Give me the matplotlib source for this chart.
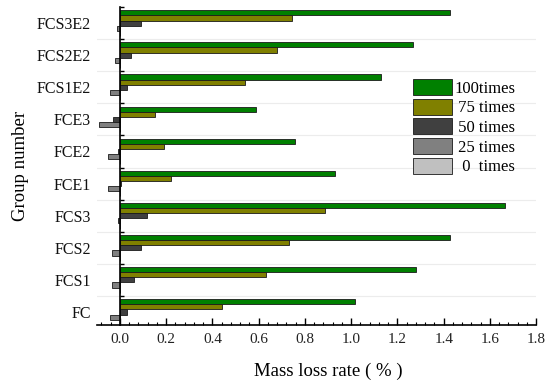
import numpy as np
import matplotlib.pyplot as plt
from matplotlib.ticker import MultipleLocator, FixedLocator

plt.rcParams['font.family'] = ['Liberation Serif', 'DejaVu Serif']

# Data
groups = ['FC', 'FCS1', 'FCS2', 'FCS3', 'FCE1', 'FCE2', 'FCE3', 'FCS1E2', 'FCS2E2', 'FCS3E2']
series = ['100times', ' 75 times', ' 50 times', ' 25 times', '  0  times']
t100 = [1.015, 1.278, 1.427, 1.665, 0.928, 0.759, 0.588, 1.128, 1.266, 1.427]
t75 = [0.44, 0.63, 0.73, 0.888, 0.22, 0.19, 0.152, 0.54, 0.68, 0.746]
t50 = [0.03, 0.06, 0.09, 0.118, 0.004, -0.01, -0.03, 0.03, 0.048, 0.09]
t25 = [-0.043, -0.033, -0.033, -0.01, -0.05, -0.05, -0.09, -0.043, -0.023, -0.012]
t0 = [0, 0, 0, 0, 0, 0, 0, 0, 0, 0]

colors = ['#008000', '#808000', '#404040', '#808080', '#c0c0c0']

fig = plt.figure(figsize=(5.5, 3.9), dpi=100)
ax = fig.add_axes([0.176, 0.167, 0.799, 0.815])

y = np.arange(len(groups))
h = 0.16
offsets = [2 * h, h, 0, -h, -2 * h]
for vals, off, col, lab in zip([t100, t75, t50, t25, t0], offsets, colors, series):
    ax.barh(y + off, vals, height=h, color=col, edgecolor='#1a1a1a', linewidth=0.6, label=lab, zorder=3)

ax.set_xlim(-0.1, 1.8)
ax.set_ylim(-0.4, 9.5)

# faint horizontal separators between groups
for b in np.arange(0.5, 9.0, 1.0):
    ax.axhline(b, color='#ececec', linewidth=0.8, zorder=1)

for s in ['top', 'right']:
    ax.spines[s].set_visible(False)
ax.spines['left'].set_position(('data', 0))
ax.spines['left'].set_linewidth(1.2)
ax.spines['bottom'].set_linewidth(1.2)
ax.spines['left'].set_zorder(4)

ax.set_xticks(np.arange(0, 1.81, 0.2))
ax.set_xticklabels(['%.1f' % v for v in np.arange(0, 1.81, 0.2)])
ax.xaxis.set_minor_locator(MultipleLocator(0.04))
ax.tick_params(axis='x', which='major', direction='in', length=5, width=1, labelsize=11, pad=6,
               labelcolor='#222222')
ax.tick_params(axis='x', which='minor', direction='in', length=2.5, width=0.8)

ax.set_yticks(y)
ax.set_yticklabels(groups)
ax.yaxis.set_minor_locator(FixedLocator(np.arange(0.5, 10.0, 1.0)))
ax.tick_params(axis='y', which='major', length=0, labelsize=11.5, pad=21, labelcolor='#111111')
ax.tick_params(axis='y', which='minor', direction='in', length=3, width=1)

ax.set_xlabel('Mass loss rate ( % )', fontsize=13.5)
ax.xaxis.set_label_coords(1.0 / 1.9, -0.12)
ax.set_ylabel('Group number', fontsize=13.5)
ax.yaxis.set_label_coords(-0.155, 0.5)

ax.legend(loc='upper left', bbox_to_anchor=(0.72, 0.774), frameon=False, fontsize=12,
          handlelength=2.3, handleheight=1.1, labelspacing=0.12, handletextpad=0.15,
          borderaxespad=0, borderpad=0)

fig.savefig('out.png', dpi=100)
